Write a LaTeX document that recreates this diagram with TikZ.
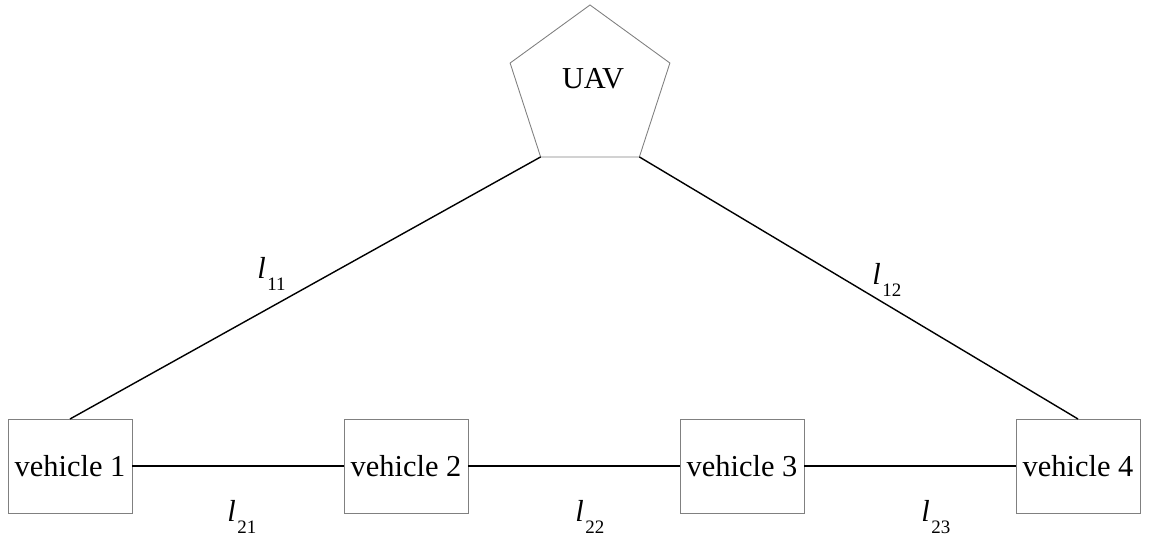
\documentclass[tikz,border=0pt]{standalone}
\usepackage{fontspec}
\setmainfont{Liberation Serif}
\usepackage{tikz}
\usetikzlibrary{positioning}
\usetikzlibrary{shapes.geometric}

\newcommand{\linklab}[1]{\textit{l}\kern0.03cm\raisebox{-0.24cm}{\fontsize{10.8}{12}\selectfont #1}}

\begin{document}
\begin{tikzpicture}[
    font=\fontsize{17.3}{20}\selectfont,
    vehiclebox/.style={draw=black!50,line width=0.5pt,minimum width=2.48cm,minimum height=1.88cm,inner sep=0pt,outer sep=0pt},
    uavshape/.style={regular polygon,regular polygon sides=5,draw=black!50,line width=0.5pt,minimum size=3.36cm,inner sep=0pt,outer sep=0pt},
    link/.style={line width=0.8pt},
    linklabel/.style={anchor=base west,inner sep=0pt}
  ]
      \useasboundingbox (0,0) rectangle (23.1,10.78);

      % UAV on top
      \node[uavshape] (uav) at (11.8,9.0) {};
      \node[inner sep=0pt] (uavtext) at (11.86,9.2) {UAV};

      % vehicles in a row
      \node[vehiclebox] (v1) at (1.4,1.46) {vehicle 1};
      \node[vehiclebox,right=4.24cm of v1] (v2) {vehicle 2};
      \node[vehiclebox,right=4.24cm of v2] (v3) {vehicle 3};
      \node[vehiclebox,right=4.24cm of v3] (v4) {vehicle 4};

      \draw[link] (uav.corner 3) -- (v1.north);
      \draw[link] (uav.corner 4) -- (v4.north);
      \draw[link] (v1) -- (v2);
      \draw[link] (v2) -- (v3);
      \draw[link] (v3) -- (v4);

      \node[linklabel] (l11) at (5.14,5.20) {\linklab{11}};
      \node[linklabel] (l12) at (17.44,5.08) {\linklab{12}};
      \node[linklabel] (l21) at (4.54,0.34) {\linklab{21}};
      \node[linklabel] (l22) at (11.50,0.34) {\linklab{22}};
      \node[linklabel] (l23) at (18.42,0.34) {\linklab{23}};
    \end{tikzpicture}
\end{document}
